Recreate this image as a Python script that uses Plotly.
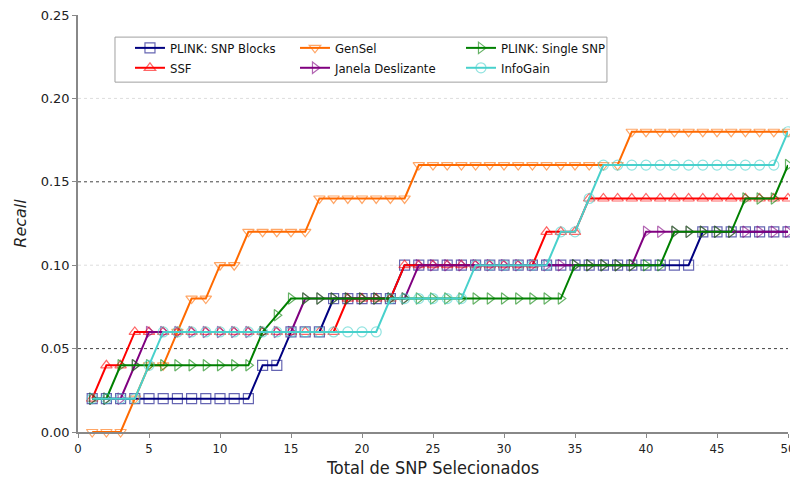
import plotly.graph_objects as go

# Number of selected SNPs (x axis)
snp_count = list(range(1, 51))

# Recall per method
recall_plink_blocks = [0.02] * 12 + [0.04] * 2 + [0.06] * 3 + [0.08] * 5 + [0.10] * 21 + [0.12] * 7
recall_ssf = [0.02] + [0.04] * 2 + [0.06] * 15 + [0.08] * 4 + [0.10] * 10 + [0.12] * 3 + [0.14] * 15
recall_gensel = ([0.00] * 3 + [0.02] + [0.04] * 2 + [0.06] + [0.08] * 2 + [0.10] * 2
                 + [0.12] * 5 + [0.14] * 7 + [0.16] * 15 + [0.18] * 12)
recall_janela = [0.02] * 3 + [0.04] + [0.06] * 11 + [0.08] * 8 + [0.10] * 16 + [0.12] * 11
recall_plink_single = ([0.02] * 2 + [0.04] * 10 + [0.06] + [0.07] + [0.08] * 20
                       + [0.10] * 7 + [0.12] * 5 + [0.14] * 3 + [0.16])
recall_infogain = ([0.02] * 4 + [0.04] + [0.06] * 16 + [0.08] * 6 + [0.10] * 6
                   + [0.12] * 2 + [0.14] + [0.16] * 13 + [0.18])

y_ticks = [0.00, 0.05, 0.10, 0.15, 0.20, 0.25]
x_ticks = [0, 5, 10, 15, 20, 25, 30, 35, 40, 45, 50]
strong_grid = [0.05, 0.15]
faint_grid = [0.10, 0.20]

# name, values, colour, marker symbol, legend column
series = [
    ("PLINK: SNP Blocks", recall_plink_blocks, "#000080", "square-open", "legend"),
    ("SSF", recall_ssf, "#ff0000", "triangle-up-open", "legend"),
    ("GenSel", recall_gensel, "#ff6a00", "triangle-down-open", "legend2"),
    ("Janela Deslizante", recall_janela, "#800080", "triangle-right-open", "legend2"),
    ("PLINK: Single SNP", recall_plink_single, "#008000", "triangle-right-open", "legend3"),
    ("InfoGain", recall_infogain, "#48d1cc", "circle-open", "legend3"),
]

FONT = "DejaVu Sans"
NARROW = "DejaVu Sans Condensed, Liberation Sans Narrow, DejaVu Sans"

fig = go.Figure()
for name, values, color, symbol, legend_id in series:
    fig.add_trace(go.Scatter(
        x=snp_count, y=values, name=name, mode="lines+markers",
        line=dict(color=color, width=2),
        marker=dict(symbol=symbol, size=10, color=color, opacity=0.6,
                    line=dict(color=color, width=1.2)),
        cliponaxis=False, legend=legend_id,
    ))

shapes = []
for v in strong_grid:
    shapes.append(dict(type="line", xref="paper", x0=0, x1=1, yref="y", y0=v, y1=v,
                       line=dict(color="#444444", width=1, dash="dot"), layer="below"))
for v in faint_grid:
    shapes.append(dict(type="line", xref="paper", x0=0, x1=1, yref="y", y0=v, y1=v,
                       line=dict(color="#dddddd", width=1, dash="dot"), layer="below"))
# legend frame
shapes.append(dict(type="rect", xref="paper", yref="paper",
                   x0=0.0521, x1=0.745, y0=0.839, y1=0.947,
                   line=dict(color="#a0a0a0", width=1), fillcolor="white", layer="above"))

legend_common = dict(
    orientation="v", yanchor="top", xanchor="left", y=0.957,
    bgcolor="rgba(0,0,0,0)", borderwidth=0, tracegroupgap=0,
    font=dict(family=NARROW, size=13, color="#111111"),
)

fig.update_layout(
    width=790, height=479,
    margin=dict(l=78, r=2, t=15, b=47),
    paper_bgcolor="white", plot_bgcolor="white",
    font=dict(family=FONT, size=12, color="#222222"),
    shapes=shapes,
    showlegend=True,
    legend=dict(x=0.0732, **legend_common),
    legend2=dict(x=0.3056, **legend_common),
    legend3=dict(x=0.5394, **legend_common),
    xaxis=dict(
        range=[0, 50], tickvals=x_ticks, ticktext=[str(t) for t in x_ticks],
        showgrid=False, zeroline=False, automargin=False,
        showline=True, linecolor="#888888", linewidth=1.5,
        ticks="outside", ticklen=4, tickcolor="#888888",
        tickfont=dict(family=NARROW, size=13), ticklabeloverflow="allow",
        title=dict(text="Total de SNP Selecionados", font=dict(family=NARROW, size=18), standoff=6),
    ),
    yaxis=dict(
        range=[0, 0.25], tickvals=y_ticks, ticktext=[f"{t:.2f}" for t in y_ticks],
        showgrid=False, zeroline=False, automargin=False,
        showline=True, linecolor="#888888", linewidth=1.5,
        ticks="outside", ticklen=4, tickcolor="#888888",
        tickfont=dict(family=FONT, size=13),
        title=dict(text="<i>Recall</i>", font=dict(family=FONT, size=16), standoff=10),
    ),
)

fig.write_html("out.html")
